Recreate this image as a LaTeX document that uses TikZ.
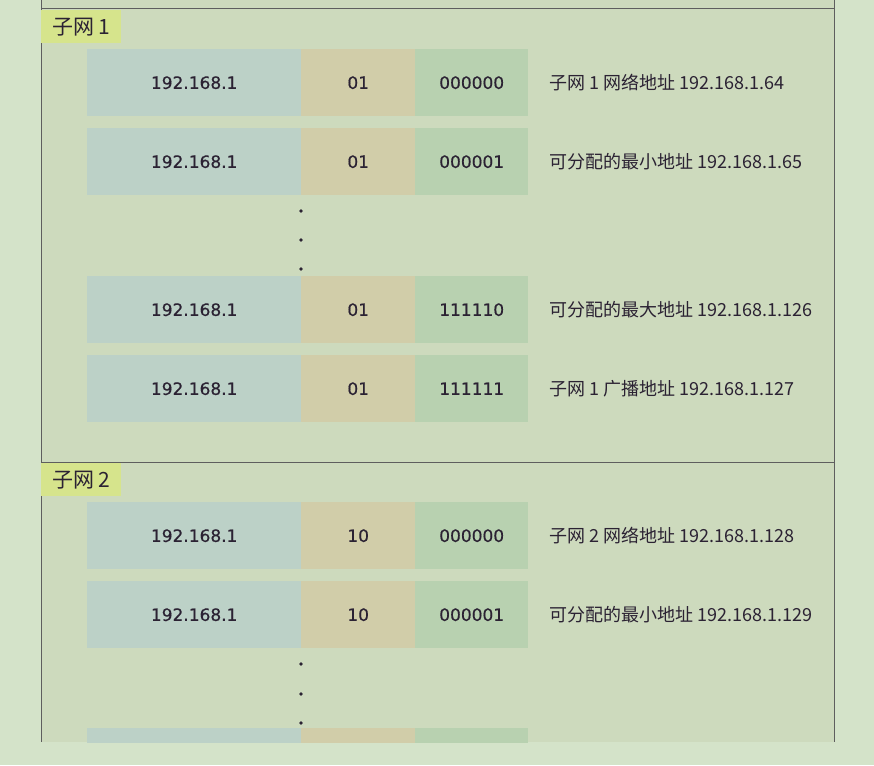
\documentclass[tikz,border=0pt]{standalone}
\usepackage{fontspec}
\setmainfont{Noto Sans CJK SC}
\newfontfamily\bitsfont[FakeBold=0.5]{DejaVu Sans}
\definecolor{pagebg}{HTML}{D4E3C9}
\definecolor{panelbg}{HTML}{CDDABD}
\definecolor{rule}{HTML}{5E5E5E}
\definecolor{netcol}{HTML}{BCD1C7}
\definecolor{subcol}{HTML}{D1CDA9}
\definecolor{hostcol}{HTML}{B8D1B0}
\definecolor{tagcol}{HTML}{D6E48C}
\definecolor{ink}{HTML}{2B2233}
\begin{document}
\begin{tikzpicture}[x=1pt,y=-1pt,
  cellbase/.style={inner sep=0pt, anchor=north west, minimum height=67pt,
    text=ink, font=\bitsfont\fontsize{17}{20}\selectfont},
  netcell/.style={cellbase, fill=netcol, minimum width=214pt},
  subcell/.style={cellbase, fill=subcol, minimum width=114pt},
  hostcell/.style={cellbase, fill=hostcol, minimum width=113pt},
  note/.style={anchor=west, inner sep=0pt, text=ink, font=\fontsize{18}{21}\selectfont},
  tag/.style={anchor=north west, inner sep=0pt, fill=tagcol, minimum width=80pt,
    minimum height=33pt, text=ink, font=\fontsize{21}{24}\selectfont},
  gap/.style={circle, fill=ink, inner sep=0pt, minimum size=3.6pt},
  frame/.style={draw=rule, line width=1pt}]
\useasboundingbox (0,0) rectangle (874,765);
\fill[pagebg] (0,0) rectangle (874,765);
% panel
\fill[panelbg] (41,-2) rectangle (834,742);
\draw[frame] (41,-2) -- (41,742);
\draw[frame] (834,-2) -- (834,742);
\draw[frame] (41,9) -- (834,9);
\draw[frame] (41,462) -- (834,462);

% one address row: name, top y, subnet bits, host bits, note
\newcommand{\addrrow}[5]{%
  \node[netcell] (#1a) at (87,#2) {192.168.1};
  \node[subcell] (#1b) at (301,#2) {#3};
  \node[hostcell] (#1c) at (415,#2) {#4};
  \node[note] (#1n) at (549,#2+33.5) {#5};
}

% subnet 1
\node[tag] (tag1) at (41,10) {子网~1};
\addrrow{ra}{49}{01}{000000}{子网 1 网络地址 192.168.1.64}
\addrrow{rb}{128}{01}{000001}{可分配的最小地址 192.168.1.65}
\node[gap] (da1) at (301,211) {};
\node[gap] (da2) at (301,240) {};
\node[gap] (da3) at (301,269) {};
\addrrow{rc}{276}{01}{111110}{可分配的最大地址 192.168.1.126}
\addrrow{rd}{355}{01}{111111}{子网 1 广播地址 192.168.1.127}

% subnet 2
\node[tag] (tag2) at (41,463) {子网~2};
\addrrow{re}{502}{10}{000000}{子网 2 网络地址 192.168.1.128}
\addrrow{rf}{581}{10}{000001}{可分配的最小地址 192.168.1.129}
\node[gap] (db1) at (301,664) {};
\node[gap] (db2) at (301,694) {};
\node[gap] (db3) at (301,723) {};
\begin{scope}
\clip (41,0) rectangle (834,742);
\node[netcell] (rga) at (87,728) {};
\node[subcell] (rgb) at (301,728) {};
\node[hostcell] (rgc) at (415,728) {};
\end{scope}
\end{tikzpicture}
\end{document}
